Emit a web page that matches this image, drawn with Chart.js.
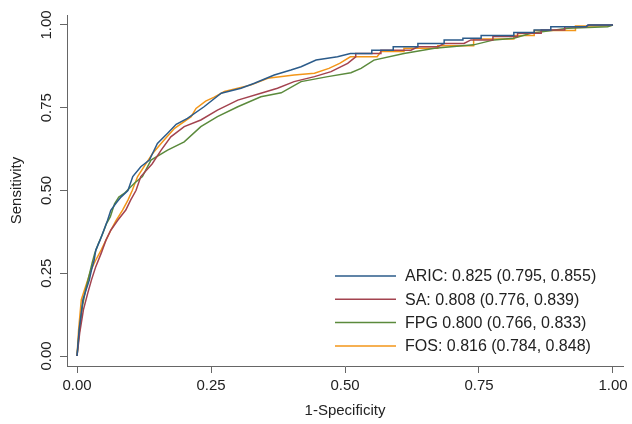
<!DOCTYPE html>
<html>
<head>
<meta charset="utf-8">
<script src="https://cdn.jsdelivr.net/npm/chart.js@4"></script>
<style>
html, body { margin: 0; padding: 0; background: #fff; }
</style>
</head>
<body>
<canvas id="roc" width="632" height="424"></canvas>
<script>
var labels = ['ARIC: 0.825 (0.795, 0.855)', 'SA: 0.808 (0.776, 0.839)', 'FPG 0.800 (0.766, 0.833)', 'FOS: 0.816 (0.784, 0.848)'];
var colors = ['#2b5b8a', '#a3434f', '#5b8a3c', '#f39619'];
var tickValues = [0, 0.25, 0.5, 0.75, 1];

var aricX = [0, 0.004, 0.011, 0.017, 0.023, 0.027, 0.032, 0.035, 0.043, 0.05, 0.057, 0.063, 0.073, 0.082, 0.095, 0.104, 0.119, 0.135, 0.15, 0.169, 0.185, 0.206, 0.237, 0.269, 0.306, 0.331, 0.368, 0.399, 0.418, 0.446, 0.486, 0.51, 0.55, 0.55, 0.59, 0.59, 0.636, 0.636, 0.685, 0.685, 0.72, 0.72, 0.754, 0.754, 0.815, 0.815, 0.853, 0.853, 0.884, 0.884, 0.95, 0.953, 1];
var aricY = [0, 0.08, 0.17, 0.2, 0.23, 0.26, 0.29, 0.32, 0.35, 0.38, 0.41, 0.44, 0.462, 0.48, 0.5, 0.542, 0.572, 0.592, 0.642, 0.673, 0.7, 0.718, 0.753, 0.794, 0.809, 0.824, 0.849, 0.864, 0.874, 0.894, 0.904, 0.914, 0.914, 0.924, 0.924, 0.934, 0.934, 0.944, 0.944, 0.955, 0.955, 0.96, 0.96, 0.968, 0.968, 0.977, 0.977, 0.985, 0.985, 0.995, 0.995, 1, 1];

var saX = [0, 0.005, 0.012, 0.02, 0.027, 0.035, 0.045, 0.054, 0.063, 0.076, 0.091, 0.1, 0.11, 0.119, 0.14, 0.157, 0.175, 0.2, 0.231, 0.262, 0.3, 0.343, 0.374, 0.405, 0.443, 0.474, 0.505, 0.52, 0.52, 0.567, 0.567, 0.623, 0.636, 0.673, 0.685, 0.722, 0.735, 0.776, 0.776, 0.822, 0.822, 0.866, 0.866, 0.91, 0.91, 0.95, 0.955, 1];
var saY = [0, 0.07, 0.14, 0.19, 0.23, 0.27, 0.31, 0.35, 0.38, 0.41, 0.441, 0.471, 0.5, 0.542, 0.58, 0.622, 0.662, 0.693, 0.713, 0.743, 0.773, 0.794, 0.809, 0.829, 0.844, 0.859, 0.884, 0.904, 0.914, 0.914, 0.924, 0.924, 0.934, 0.934, 0.944, 0.944, 0.955, 0.955, 0.965, 0.965, 0.975, 0.975, 0.985, 0.985, 0.995, 0.995, 1, 1];

var fpgX = [0, 0.004, 0.01, 0.016, 0.022, 0.028, 0.033, 0.04, 0.048, 0.055, 0.062, 0.07, 0.078, 0.088, 0.107, 0.122, 0.138, 0.169, 0.2, 0.231, 0.262, 0.3, 0.343, 0.381, 0.418, 0.468, 0.511, 0.53, 0.554, 0.61, 0.667, 0.74, 0.778, 0.815, 0.847, 0.916, 0.99, 1];
var fpgY = [0, 0.07, 0.15, 0.2, 0.24, 0.28, 0.31, 0.34, 0.37, 0.4, 0.42, 0.46, 0.48, 0.491, 0.522, 0.542, 0.592, 0.622, 0.647, 0.693, 0.723, 0.753, 0.783, 0.795, 0.829, 0.844, 0.856, 0.869, 0.894, 0.914, 0.93, 0.94, 0.955, 0.96, 0.975, 0.99, 0.995, 1];

var fosX = [0, 0.003, 0.008, 0.014, 0.02, 0.026, 0.035, 0.045, 0.054, 0.063, 0.073, 0.085, 0.095, 0.103, 0.113, 0.141, 0.16, 0.182, 0.213, 0.222, 0.24, 0.256, 0.275, 0.325, 0.356, 0.405, 0.443, 0.47, 0.49, 0.51, 0.56, 0.567, 0.61, 0.61, 0.673, 0.673, 0.74, 0.74, 0.815, 0.815, 0.853, 0.853, 0.93, 0.93, 0.99, 1];
var fosY = [0, 0.08, 0.17, 0.2, 0.23, 0.26, 0.29, 0.32, 0.35, 0.38, 0.41, 0.441, 0.471, 0.5, 0.542, 0.612, 0.648, 0.688, 0.723, 0.748, 0.77, 0.782, 0.799, 0.819, 0.839, 0.849, 0.854, 0.869, 0.884, 0.904, 0.904, 0.92, 0.92, 0.93, 0.93, 0.937, 0.937, 0.958, 0.958, 0.968, 0.968, 0.983, 0.983, 0.997, 0.997, 1];

var xs = [aricX, saX, fpgX, fosX];
var ys = [aricY, saY, fpgY, fosY];
var family = 'Arial, "Liberation Sans", sans-serif';

function toPoints(xv, yv) {
    return xv.map(function (v, i) { return { x: v, y: yv[i] }; });
}

var extras = {
    id: 'extras',
    afterDraw: function (chart) {
        var c = chart.ctx;
        var yScale = chart.scales.y;
        c.save();
        c.fillStyle = '#222';
        c.font = '15px ' + family;
        c.textAlign = 'center';
        c.textBaseline = 'middle';
        tickValues.forEach(function (v) {
            c.save();
            c.translate(47, yScale.getPixelForValue(v));
            c.rotate(-Math.PI / 2);
            c.fillText(v.toFixed(2), 0, 0);
            c.restore();
        });
        // legend inside the plot
        c.font = '16px ' + family;
        c.textAlign = 'left';
        chart.data.datasets.forEach(function (ds, i) {
            var ly = 276 + i * 23.3;
            c.strokeStyle = ds.borderColor;
            c.lineWidth = 1.5;
            c.beginPath();
            c.moveTo(335, ly);
            c.lineTo(396, ly);
            c.stroke();
            c.fillText(ds.label, 405, ly + 1);
        });
        c.restore();
    }
};

var ctx = document.getElementById('roc').getContext('2d');
var myChart = new Chart(ctx, {
    type: 'scatter',
    data: {
        datasets: labels.map(function (l, i) {
            return {
                label: l,
                data: toPoints(xs[i], ys[i]),
                showLine: true,
                borderColor: colors[i],
                backgroundColor: colors[i],
                borderWidth: 1.5,
                pointRadius: 0,
                tension: 0
            };
        })
    },
    options: {
        responsive: false,
        animation: false,
        layout: { padding: { top: 15, right: 9, left: 0, bottom: 0 } },
        plugins: { legend: { display: false }, tooltip: { enabled: false } },
        scales: {
            x: {
                type: 'linear',
                min: -0.0187,
                max: 1.0187,
                afterBuildTicks: function (s) { s.ticks = tickValues.map(function (v) { return { value: v }; }); },
                afterFit: function (s) { s.height = 58; },
                grid: { drawOnChartArea: false, tickLength: 7, color: '#666' },
                border: { display: true, color: '#666', width: 1 },
                ticks: {
                    color: '#222',
                    font: { size: 15, family: family },
                    padding: 4,
                    maxRotation: 0,
                    callback: function (v) { return v.toFixed(2); }
                },
                title: { display: true, text: '1-Specificity', color: '#222', font: { size: 15, family: family }, padding: { top: 0, bottom: 4 } }
            },
            y: {
                type: 'linear',
                min: -0.0302,
                max: 1.0302,
                afterBuildTicks: function (s) { s.ticks = tickValues.map(function (v) { return { value: v }; }); },
                afterFit: function (s) { s.width = 67; },
                grid: { drawOnChartArea: false, tickLength: 7, color: '#666' },
                border: { display: true, color: '#666', width: 1 },
                ticks: { display: false },
                title: { display: true, text: 'Sensitivity', color: '#222', font: { size: 15, family: family }, padding: { top: 8, bottom: 0 } }
            }
        }
    },
    plugins: [extras]
});
</script>
</body>
</html>
